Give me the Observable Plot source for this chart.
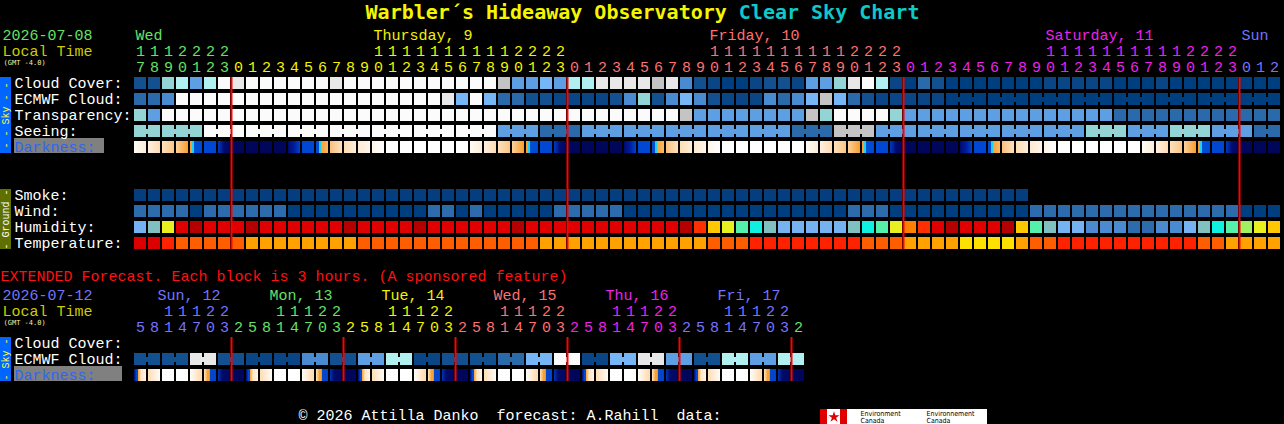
<!DOCTYPE html>
<html><head><meta charset="utf-8">
<script src="https://cdn.jsdelivr.net/npm/d3@7"></script>
<script src="https://cdn.jsdelivr.net/npm/@observablehq/plot@0.6"></script>
<style>
html,body{margin:0;padding:0;background:#000;}
svg text{white-space:pre;}
</style></head>
<body><div id="chart"></div>
<script>
// ---------- DATA ----------
const title1 = "Warbler´s Hideaway Observatory";
const title2 = "Clear Sky Chart";
const mainDate = "2026-07-08";
const extDate = "2026-07-12";
const gmtLabel = "(GMT -4.0)";
const footerText = "© 2026 Attilla Danko  forecast: A.Rahill  data:";
const extText = "EXTENDED Forecast. Each block is 3 hours. (A sponsored feature)";

const skyLabels = ["Cloud Cover:", "ECMWF Cloud:", "Transparency:", "Seeing:", "Darkness:"];
const groundLabels = ["Smoke:", "Wind:", "Humidity:", "Temperature:"];
const extLabels = ["Cloud Cover:", "ECMWF Cloud:", "Darkness:"];

const mainStartHour = 17;   // first hourly column: Wed 17h
const mainColumns = 82;
const extStartHour = 5;     // first 3-hour column: Sun 5h
const extColumns = 48;

const mainDays = [
  {label: "Wed", col: 0, day: 0},
  {label: "Thursday, 9", col: 17, day: 1},
  {label: "Friday, 10", col: 41, day: 2},
  {label: "Saturday, 11", col: 65, day: 3},
  {label: "Sun", col: 79, day: 4}
];
const extDays = [
  {label: "Sun, 12", col: 2, day: 0},
  {label: "Mon, 13", col: 10, day: 1},
  {label: "Tue, 14", col: 18, day: 2},
  {label: "Wed, 15", col: 26, day: 3},
  {label: "Thu, 16", col: 34, day: 4},
  {label: "Fri, 17", col: 42, day: 5}
];
const dayCycle = ["#66E066", "#F2F200", "#FF7070", "#EE22EE", "#7474FF"];

// cloud-like palette, 0 = clear (dark blue) ... 11 = overcast (white)
const cloudPalette = ["#003F7F","#0A4686","#13508F","#2A69AA","#4A8AD0","#5E9EE2","#77B6F6","#93D5D5","#B0F0F0","#C4C4C4","#E8E8E8","#FBFBFB"];

const cloudMain = [2,2,7,8,5,8,11,10,11,11, 11,11,11,11,10,11,11,11,11,11, 11,11,11,11,11,11,9,5,5,6, 5,8,8,10,10,10,10,9,10,4, 2,1,0,0,1,2,2,1,5,5, 7,10,11,8,1,0,3,2,0,0, 0,0,0,0,0,1,1,1,1,1, 0,0,0,1,0,0,0,0,0,0, 0,0];
const ecmwfMain = [3,3,4,11,11,11,11,11,11,11, 11,11,11,11,11,11,11,11,11,11, 11,11,10,6,11,6,3,3,2,2, 1,1,1,1,2,4,7,2,4,6, 4,2,1,1,1,4,3,4,6,9, 6,3,2,1,1,1,1,1,0,0, 0,0,0,0,0,0,0,0,0,0, 0,0,0,0,0,0,0,0,0,0, 0,0];
const ecmwfJoinFrom = 58;  // from here ECMWF is 3-hourly (joined blocks)
const transMain = [7,5,11,11,11,11,11,11,11,11, 11,11,11,11,11,11,11,11,11,11, 11,11,11,11,11,11,11,11,11,11, 11,11,11,11,11,11,11,11,11,9, 5,5,5,5,5,5,5,5,9,7, 11,11,11,11,7,5,5,5,5,5, 5,5,5,5,5,5,5,5,5,5, 3,3,3,3,3,3,3,3,3,3, 3,3];
const seeingMain = [7,7,7,7,7,11,11,11,11,11, 11,11,11,11,11,11,11,11,11,11, 11,11,11,11,11,11,5,5,5,3, 3,3,5,5,5,5,5,5,5,5, 5,5,5,5,5,5,5,3,3,3, 9,9,9,5,5,5,5,5,5,5, 5,5,5,5,5,5,5,5,7,7, 7,5,5,5,7,7,7,5,5,5, 3,3];
const darkMain = ["E1","E2","E3","E4","ET","EB","EG","N","N","N", "N","DG","DB","DT","D4","D3","D2","D1","W","W",
  "W","W","W","W","E1","E2","E3","E4","ET","EB", "EG","N","N","N","N","DG","DB","DT","D4","D3",
  "D2","D1","W","W","W","W","W","W","E1","E2", "E3","E4","ET","EB","EG","N","N","N","N","DG",
  "DB","DT","D4","D3","D2","D1","W","W","W","W", "W","W","E1","E2","E3","E4","ET","EB","EG","N", "N","N"];

const smokePalette = ["#053E7E"];
const smokeMain = [0,0,0,0,0,0,0,0,0,0, 0,0,0,0,0,0,0,0,0,0, 0,0,0,0,0,0,0,0,0,0, 0,0,0,0,0,0,0,0,0,0, 0,0,0,0,0,0,0,0,0,0, 0,0,0,0,0,0,0,0,0,0, 0,0,0,0];
const windPalette = ["#003F7F", "#2C6CAC"];
const windMain = [1,1,1,1,0,1,1,1,1,1, 1,0,0,0,0,0,0,0,0,0, 0,1,1,0,1,0,0,0,0,0, 1,1,1,1,1,0,0,0,0,0, 0,0,0,0,0,0,0,0,0,0, 0,1,1,1,0,0,0,0,0,0, 0,0,0,0,1,1,1,1,1,1, 1,1,1,1,1,1,1,1,1,0, 0,0];
const humPalette = ["#2C6CAC","#4A8AD0","#74B2F2","#80C0C0","#10F0E0","#55F0AA","#A0F060","#E8F020","#FFC800","#FF8000","#FF3000","#E00000","#B40000"];
const humMain = [2,3,7,11,12,11,11,11,12,11, 11,11,11,11,11,12,11,11,11,11, 12,11,11,11,11,11,11,12,11,11, 11,11,11,11,11,11,11,11,11,12, 10,8,7,5,4,3,2,2,2,2, 2,3,4,5,7,9,10,11,12,11, 11,11,12,8,5,3,2,2,1,1, 1,0,0,1,1,2,3,4,5,6, 7,8];
const tempPalette = ["#FFE100","#FFA200","#FF5E00","#FF2200","#DD0000"];
const tempMain = [4,4,3,2,2,2,2,2,1,1, 1,1,1,1,1,1,2,2,2,2, 2,2,2,2,2,2,2,2,2,1, 1,1,1,1,1,1,1,1,1,1, 1,2,2,2,3,3,3,3,3,3, 3,3,2,2,2,1,1,1,1,0, 0,0,0,1,2,2,3,3,3,3, 3,3,3,3,3,3,2,2,1,1, 1,1];

const ecmwfExt = [2,2,10,2,1,1,4,2,5,8,1,2,2,3,6,11,1,6,10,5,2,8,5,8]; // 6-hour joined blocks
const darkExt = ["XD","X8","W","W","X17","XE","X23","N", "XD","X8","W","W","X17","XE","X23","N",
  "XD","X8","W","W","X17","XE","X23","N", "XD","X8","W","W","X17","XE","X23","N",
  "XD","X8","W","W","X17","XE","X23","N", "XD","X8","W","W","X17","XE","X23","N"];

const darkSolid = {W: "#FFFFFF", EB: "#0048D4", DB: "#0048D4", N: "#00075A"};
const gradients = {
  E1: [[0,"#FFFBF5"],[1,"#FEEDD8"]],
  E2: [[0,"#FEF0DE"],[1,"#FDDBB2"]],
  E3: [[0,"#FEE0BC"],[1,"#FBC685"]],
  E4: [[0,"#FCD19C"],[1,"#F79E2E"]],
  ET: [[0,"#F7A030"],[0.16,"#F7A030"],[0.16,"#20D0F0"],[0.3,"#20D0F0"],[0.3,"#0050D8"],[1,"#0048D4"]],
  EG: [[0,"#0038C0"],[0.5,"#000C72"],[1,"#00085E"]],
  DG: [[0,"#000A6C"],[0.5,"#001C9C"],[1,"#0044CC"]],
  DT: [[0,"#0048D4"],[0.22,"#0050D8"],[0.22,"#20D0F0"],[0.38,"#20D0F0"],[0.38,"#F7A030"],[1,"#FABA66"]],
  D4: [[0,"#FAC07E"],[1,"#FDE0BC"]],
  D3: [[0,"#FDDDB4"],[1,"#FEEDD8"]],
  D2: [[0,"#FEEAD2"],[1,"#FFF5EA"]],
  D1: [[0,"#FFF4E8"],[1,"#FFFFFF"]],
  XD: [[0,"#000A70"],[0.2,"#0048D0"],[0.3,"#0048D0"],[0.3,"#F59A30"],[0.45,"#FCC070"],[0.6,"#FEE6C8"],[1,"#FFF5E8"]],
  X8: [[0,"#FDDDB5"],[1,"#FFFBF6"]],
  X17: [[0,"#FFFCF8"],[1,"#FDD9AC"]],
  XE: [[0,"#FEE6C4"],[0.3,"#F8A030"],[0.4,"#F8A030"],[0.4,"#40C8D8"],[0.5,"#40C8D8"],[0.5,"#0048D0"],[1,"#0044CC"]],
  X23: [[0,"#0034B4"],[0.35,"#000C6C"],[1,"#00085C"]]
};
const darkFill = c => darkSolid[c] || `url(#dk-${c})`;

// ---------- LAYOUT HELPERS ----------
const MONO = "Liberation Mono";
const TITLEFONT = "DejaVu Sans Mono";
const x0 = 134, colW = 14, y0 = 13, rowH = 16;
const px = p => (p - x0) / colW;   // pixel -> column units
const py = p => (p - y0) / rowH;   // pixel -> row units
const BL = 10 / 16;                // baseline inside a row
const R = {day: 1, tens: 2, units: 3, cloud: 4, ecmwf: 5, trans: 6, seeing: 7, dark: 8,
  smoke: 11, wind: 12, hum: 13, temp: 14, ext: 16,
  xday: 17.25, xtens: 18.25, xunits: 19.25, xcloud: 20.25, xecmwf: 21.25, xdark: 22.25};

const mainHours = d3.range(mainColumns).map(i => (mainStartHour + i) % 24);
const mainDayOf = i => Math.floor((mainStartHour + i) / 24);
const extHours = d3.range(extColumns).map(j => (extStartHour + 3 * j) % 24);
const extDayOf = j => Math.floor((extStartHour + 3 * j) / 24);
const extColor = d => dayCycle[(d + 4) % 5];

// ---------- CELLS ----------
const cells = [];
const addRow = (values, row, color) => values.forEach((v, i) => cells.push({x: i, row, fill: color(v)}));
addRow(cloudMain, R.cloud, v => cloudPalette[v]);
addRow(ecmwfMain, R.ecmwf, v => cloudPalette[v]);
addRow(transMain, R.trans, v => cloudPalette[v]);
addRow(seeingMain, R.seeing, v => cloudPalette[v]);
addRow(darkMain, R.dark, darkFill);
addRow(smokeMain, R.smoke, v => smokePalette[v]);
addRow(windMain, R.wind, v => windPalette[v]);
addRow(humMain, R.hum, v => humPalette[v]);
addRow(tempMain, R.temp, v => tempPalette[v]);
addRow(d3.range(extColumns).map(j => ecmwfExt[Math.floor(j / 2)]), R.xecmwf, v => cloudPalette[v]);
addRow(darkExt, R.xdark, darkFill);

const bridges = [];
for (let i = 0; i < mainColumns - 1; i++)
  if (mainHours[i + 1] % 3 !== 1) bridges.push({x: i, row: R.seeing, fill: cloudPalette[seeingMain[i]]});
for (let i = ecmwfJoinFrom; i < mainColumns - 1; i++)
  if (mainHours[i + 1] % 3 !== 0) bridges.push({x: i, row: R.ecmwf, fill: cloudPalette[ecmwfMain[i]]});
ecmwfExt.forEach((v, k) => bridges.push({x: 2 * k, row: R.xecmwf, fill: cloudPalette[v]}));

const mainMidnights = mainHours.map((h, i) => h === 0 ? i : null).filter(d => d !== null);
const extMidnights = extHours.map((h, j) => h === 2 ? j : null).filter(d => d !== null);

const T = (data, o) => Plot.text(data, {fontFamily: MONO, fontSize: 15, lineAnchor: "bottom", textAnchor: "start", ...o});
const box = (x1, x2, y1, y2, fill) => Plot.rect([0], {x1: () => px(x1), x2: () => px(x2), y1: () => py(y1), y2: () => py(y2), fill});

const tw = 0.602 * 20;
const titleStart = 642 - (title1.length + 1 + title2.length) * tw / 2;

const svg = Plot.plot({
  width: 1284, height: 424,
  marginTop: 0, marginRight: 0, marginBottom: 0, marginLeft: 0,
  x: {type: "linear", domain: [0, 82], range: [134, 1282], axis: null},
  y: {type: "linear", domain: [0, 10], range: [13, 173], axis: null},
  color: {type: "identity"},
  style: {background: "#000", fontFamily: MONO},
  marks: [
    // title
    T([title1], {x: () => px(titleStart), y: () => py(18), text: d => d, fill: "#F5F500", fontSize: 20, fontWeight: "bold", fontFamily: TITLEFONT}),
    T([title2], {x: () => px(titleStart + (title1.length + 1) * tw), y: () => py(18), text: d => d, fill: "#10C8C8", fontSize: 20, fontWeight: "bold", fontFamily: TITLEFONT}),
    // header left
    T([mainDate], {x: () => px(2), y: () => R.day + BL, text: d => d, fill: dayCycle[0]}),
    T(["Local Time"], {x: () => px(2), y: () => R.tens + BL, text: d => d, fill: "#CCCC00"}),
    T([gmtLabel], {x: () => px(3), y: () => py(64.5), text: d => d, fill: "#F0F0A0", fontSize: 7, fontFamily: TITLEFONT}),
    // day labels and hours
    T(mainDays, {x: d => d.col, dx: 1, y: () => R.day + BL, text: d => d.label, fill: d => dayCycle[d.day]}),
    T(mainHours.map((h, i) => ({h, i})).filter(d => d.h >= 10), {x: d => d.i, dx: 6, y: () => R.tens + BL, text: d => String(Math.floor(d.h / 10)), fill: d => dayCycle[mainDayOf(d.i)], textAnchor: "middle"}),
    T(mainHours.map((h, i) => ({h, i})), {x: d => d.i, dx: 6, y: () => R.units + BL, text: d => String(d.h % 10), fill: d => dayCycle[mainDayOf(d.i)], textAnchor: "middle"}),
    // side bars
    box(0, 11, 77, 153, "#0066FF"),
    box(0, 11, 189, 249, "#607000"),
    box(0, 11, 337, 381, "#0066FF"),
    Plot.text(["- - Sky - -"], {x: () => px(5.5), y: () => py(115), text: d => d, rotate: -90, fontFamily: MONO, fontSize: 10, fill: "#FFFF40"}),
    Plot.text(["- Ground -"], {x: () => px(5.5), y: () => py(219), text: d => d, rotate: -90, fontFamily: MONO, fontSize: 10, fill: "#FFFFFF"}),
    Plot.text(["- Sky -"], {x: () => px(5.5), y: () => py(359), text: d => d, rotate: -90, fontFamily: MONO, fontSize: 10, fill: "#FFFF40"}),
    // darkness label boxes
    box(14, 104, 138, 153, "#808080"),
    box(14, 122, 366, 381, "#808080"),
    // row labels
    T(skyLabels, {x: () => px(14), y: (d, i) => R.cloud + i + BL, text: d => d, fill: d => d === "Darkness:" ? "#2E66F2" : "#FFFFFF"}),
    T(groundLabels, {x: () => px(14), y: (d, i) => R.smoke + i + BL, text: d => d, fill: "#FFFFFF"}),
    T(extLabels, {x: () => px(14), y: (d, i) => R.xcloud + i + BL, text: d => d, fill: d => d === "Darkness:" ? "#2E66F2" : "#FFFFFF"}),
    // cells
    Plot.rect(cells, {x1: d => d.x, x2: d => d.x + 1, y1: d => d.row, y2: d => d.row + 1, fill: d => d.fill, insetRight: 2, insetBottom: 4}),
    Plot.rect(bridges, {x1: d => d.x, x2: d => d.x + 1, y1: d => d.row, y2: d => d.row + 1, fill: d => d.fill, insetLeft: 12, insetTop: 4, insetBottom: 7}),
    // midnight lines
    Plot.ruleX(mainMidnights, {x: d => d, y1: () => R.cloud, y2: () => R.temp + 0.75, stroke: "#FF0000", strokeWidth: 2, dx: -1}),
    Plot.ruleX(extMidnights, {x: d => d, y1: () => R.xcloud, y2: () => R.xdark + 0.75, stroke: "#FF0000", strokeWidth: 2, dx: -1}),
    // extended header
    T([extText], {x: () => px(0), y: () => py(280), text: d => d, fill: "#FF1010"}),
    T([extDate], {x: () => px(2), y: () => R.xday + BL, text: d => d, fill: dayCycle[4]}),
    T(["Local Time"], {x: () => px(2), y: () => R.xtens + BL, text: d => d, fill: "#CCCC00"}),
    T([gmtLabel], {x: () => px(3), y: () => py(324.5), text: d => d, fill: "#F0F0A0", fontSize: 7, fontFamily: TITLEFONT}),
    T(extDays, {x: d => d.col, dx: -5, y: () => R.xday + BL, text: d => d.label, fill: d => extColor(d.day)}),
    T(extHours.map((h, j) => ({h, j})).filter(d => d.h >= 10), {x: d => d.j, dx: 6, y: () => R.xtens + BL, text: d => String(Math.floor(d.h / 10)), fill: d => extColor(extDayOf(d.j)), textAnchor: "middle"}),
    T(extHours.map((h, j) => ({h, j})), {x: d => d.j, dx: 6, y: () => R.xunits + BL, text: d => String(d.h % 10), fill: d => extColor(extDayOf(d.j)), textAnchor: "middle"}),
    // footer
    T([footerText], {x: () => px(298), y: () => py(419.5), text: d => d, fill: "#FFFFFF"}),
    box(820, 987, 409, 424, "#FFFFFF"),
    box(820, 827, 409, 424, "#E00000"),
    box(840, 847, 409, 424, "#E00000"),
    Plot.dot([0], {x: () => px(833.5), y: () => py(416.5), symbol: "star", r: 3.5, fill: "#E00000"}),
    Plot.text(["Environment", "Canada"], {x: () => px(860), y: (d, i) => py(415.5 + i * 6.5), text: d => d, fill: "#000", fontSize: 7, fontFamily: "DejaVu Sans Condensed, DejaVu Sans", textAnchor: "start", lineAnchor: "bottom"}),
    Plot.text(["Environnement", "Canada"], {x: () => px(926), y: (d, i) => py(415.5 + i * 6.5), text: d => d, fill: "#000", fontSize: 7, fontFamily: "DejaVu Sans Condensed, DejaVu Sans", textAnchor: "start", lineAnchor: "bottom"})
  ]
});

// gradient definitions for the darkness blocks
const ns = "http://www.w3.org/2000/svg";
const defs = document.createElementNS(ns, "defs");
for (const [id, stops] of Object.entries(gradients)) {
  const g = document.createElementNS(ns, "linearGradient");
  g.setAttribute("id", "dk-" + id);
  g.setAttribute("x1", "0"); g.setAttribute("y1", "0"); g.setAttribute("x2", "1"); g.setAttribute("y2", "0");
  for (const [o, c] of stops) {
    const s = document.createElementNS(ns, "stop");
    s.setAttribute("offset", o); s.setAttribute("stop-color", c);
    g.appendChild(s);
  }
  defs.appendChild(g);
}
svg.insertBefore(defs, svg.firstChild);
document.getElementById("chart").appendChild(svg);
</script>
</body></html>
